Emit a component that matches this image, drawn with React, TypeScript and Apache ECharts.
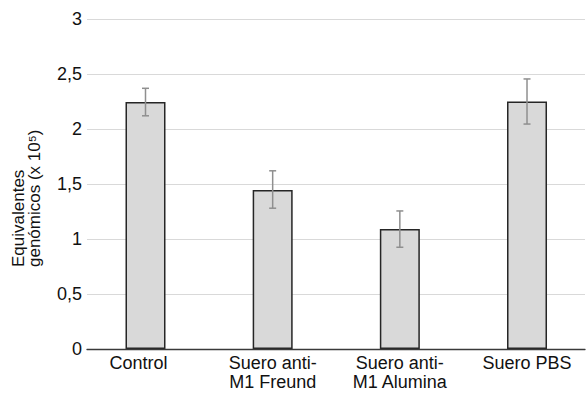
import React, { useEffect, useRef } from "react";
import * as echarts from "echarts";

const categories = ["Control", "Suero anti-\nM1 Freund", "Suero anti-\nM1 Alumina", "Suero PBS"];
const means = [2.245, 1.445, 1.09, 2.25];
const errLow = [2.12, 1.28, 0.925, 2.045];
const errHigh = [2.37, 1.62, 1.255, 2.455];
const yTicks = [0, 0.5, 1, 1.5, 2, 2.5, 3];

export default function App() {
  const ref = useRef<HTMLDivElement>(null);
  useEffect(() => {
    const chart = echarts.init(ref.current!, null, { renderer: "svg" });
    const font = "Liberation Sans, Arial, sans-serif";
    chart.setOption({
      animation: false,
      grid: { left: 87, right: 1, top: 19, bottom: 45 },
      xAxis: {
        type: "value",
        min: -0.46,
        max: 3.456,
        z: 5,
        axisLine: { show: true, onZero: false, lineStyle: { color: "#3a3a3a", width: 1.3 } },
        axisTick: { show: false },
        splitLine: { show: false },
        axisLabel: {
          customValues: [0, 1, 2, 3],
          formatter: (v: number) => {
            const i = Math.round(v);
            return i === 0 ? "{a|" + categories[0] + "}" : categories[i] ?? "";
          },
          rich: { a: { fontSize: 18, fontFamily: font, color: "#111", padding: [0, 14, 0, 0] } },
          color: "#111",
          fontSize: 18,
          fontFamily: font,
          lineHeight: 19,
          margin: 4,
        },
      },
      yAxis: {
        type: "value",
        min: 0,
        max: 3,
        interval: 0.5,
        axisLine: { show: false },
        axisTick: { show: false },
        splitLine: { showMinLine: false, lineStyle: { color: "#d9d9d9", width: 1 } },
        axisLabel: {
          customValues: yTicks,
          formatter: (v: number) => String(v).replace(".", ","),
          color: "#111",
          fontSize: 18,
          fontFamily: font,
          margin: 5,
        },
      },
      graphic: [
        {
          type: "text",
          x: 26,
          y: 267,
          rotation: Math.PI / 2,
          style: {
            text: "Equivalentes\ngenómicos (x 10⁵)",
            align: "left",
            verticalAlign: "middle",
            fill: "#111",
            fontSize: 17,
            fontFamily: font,
            lineHeight: 16,
          },
        },
      ],
      series: [
        {
          type: "bar",
          barWidth: 40,
          data: means.map((m, i) => [i, m]),
          itemStyle: { color: "#d9d9d9", borderColor: "#262626", borderWidth: 1.5 },
        },
        {
          type: "custom",
          data: means.map((_, i) => [i, errLow[i], errHigh[i]]),
          z: 10,
          renderItem: (params: any, api: any) => {
            const x = api.value(0);
            const lo = api.coord([x, api.value(1)]);
            const hi = api.coord([x, api.value(2)]);
            const hw = 3.5;
            const style = { stroke: "#8f8f8f", lineWidth: 1.5, fill: "none" };
            return {
              type: "group",
              children: [
                { type: "line", shape: { x1: lo[0], y1: lo[1], x2: hi[0], y2: hi[1] }, style },
                { type: "line", shape: { x1: lo[0] - hw, y1: lo[1], x2: lo[0] + hw, y2: lo[1] }, style },
                { type: "line", shape: { x1: hi[0] - hw, y1: hi[1], x2: hi[0] + hw, y2: hi[1] }, style },
              ],
            };
          },
        },
      ],
    });
    return () => chart.dispose();
  }, []);
  return <div ref={ref} style={{ width: 586, height: 394, position: "absolute", left: 0, top: 0 }} />;
}
